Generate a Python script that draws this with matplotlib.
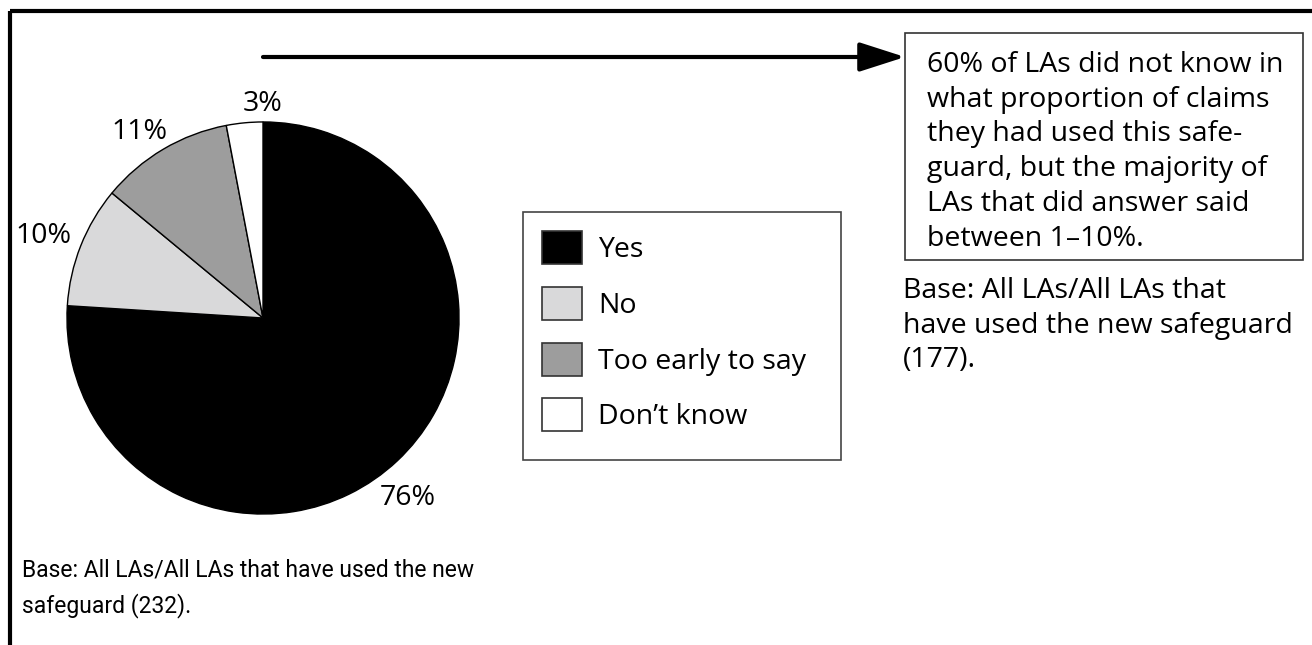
import matplotlib.pyplot as plt
from matplotlib.patches import Patch

plt.rcParams['font.family'] = ['Open Sans', 'DejaVu Sans']

# Pie data
categories = ['Yes', 'No', 'Too early to say', 'Don\u2019t know']
values = [76, 10, 11, 3]
colors = ['#000000', '#d9d9da', '#9d9d9d', '#ffffff']
pct_labels = ['76%', '10%', '11%', '3%']

note_text = ('60% of LAs did not know in\nwhat proportion of claims\n'
             'they had used this safe-\nguard, but the majority of\n'
             'LAs that did answer said\nbetween 1\u201310%.')
base_right = 'Base: All LAs/All LAs that\nhave used the new safeguard\n(177).'
base_left = 'Base: All LAs/All LAs that have used the new\nsafeguard (232).'

FS = 20.5
W, H = 1312, 645
fig = plt.figure(figsize=(W / 100, H / 100), dpi=100)

# background axes in pixel coordinates (y from top)
bg = fig.add_axes([0, 0, 1, 1])
bg.set_xlim(0, W)
bg.set_ylim(H, 0)
bg.axis('off')

# frame: top and left lines only
bg.plot([10, W], [11, 11], color='black', lw=3, solid_capstyle='butt')
bg.plot([10, 10], [11, H], color='black', lw=3, solid_capstyle='butt')

# pie
cx, cy, r = 263, 318, 198
ax = fig.add_axes([(cx - r) / W, (H - cy - r) / H, 2 * r / W, 2 * r / H])
wedges, texts = ax.pie(values, colors=colors, labels=pct_labels, startangle=90,
                       counterclock=False, labeldistance=1.17,
                       wedgeprops=dict(edgecolor='black', linewidth=1.0),
                       textprops=dict(fontsize=FS))
for t in texts:
    t.set_ha('center')
    t.set_va('center')
texts[0].set_position((0.74, -0.92))
texts[1].set_position((-1.12, 0.42))
texts[2].set_position((-0.63, 0.95))
texts[3].set_position((0, 1.09))
ax.set_xlim(-1.01, 1.01)
ax.set_ylim(-1.01, 1.01)

# legend (frame drawn separately)
bg.add_patch(plt.Rectangle((523, 212), 318, 248, facecolor='white',
                           edgecolor='#444444', lw=1.2))
handles = [Patch(facecolor=c, edgecolor='#333333', linewidth=1.2) for c in colors]
leg = fig.legend(handles, categories, loc='upper left',
                 bbox_to_anchor=(523 / W, 1 - 212 / H), fontsize=FS,
                 frameon=False,
                 handlelength=1.4, handleheight=1.4, handletextpad=0.56,
                 labelspacing=0.8, borderpad=0.68, borderaxespad=0)

# arrow to note box
bg.annotate('', xy=(905, 57), xytext=(263, 57),
            arrowprops=dict(arrowstyle='-|>,head_length=1.4,head_width=0.45',
                            mutation_scale=20, color='black', lw=3,
                            shrinkA=0, shrinkB=0))

# note box
bg.add_patch(plt.Rectangle((905, 33), 398, 227, facecolor='white',
                           edgecolor='#333333', lw=1.2))
bg.text(927, 51, note_text, fontsize=FS, va='top', ha='left', linespacing=1.32)

bg.text(903, 277, base_right, fontsize=FS, va='top', ha='left', linespacing=1.32)
# the lower base note is set narrower in the original
bg.text(22, 558, base_left, fontsize=16.5, va='top', ha='left', linespacing=1.6,
        family=['Roboto', 'DejaVu Sans'])

fig.savefig('out.png', dpi=100)
